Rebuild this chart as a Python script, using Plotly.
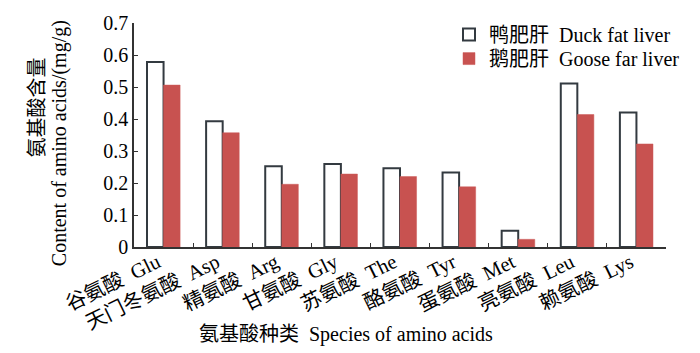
import plotly.graph_objects as go

NB = "\u00a0"
categories = ["谷氨酸" + NB*2 + "Glu", "天门冬氨酸" + NB*2 + "Asp", "精氨酸" + NB*2 + "Arg",
              "甘氨酸" + NB*2 + "Gly", "苏氨酸" + NB*2 + "The", "酪氨酸" + NB*2 + "Tyr",
              "蛋氨酸" + NB*2 + "Met", "亮氨酸" + NB*2 + "Leu", "赖氨酸" + NB*2 + "Lys"]
duck = [0.578, 0.393, 0.252, 0.259, 0.246, 0.233, 0.051, 0.511, 0.420]
goose = [0.506, 0.357, 0.196, 0.228, 0.220, 0.188, 0.024, 0.414, 0.322]
yticks = [0, 0.1, 0.2, 0.3, 0.4, 0.5, 0.6, 0.7]
ytick_text = ["0", "0.1", "0.2", "0.3", "0.4", "0.5", "0.6", "0.7"]

FONT = "Liberation Serif, Times New Roman, Noto Sans CJK SC"
W, H = 700, 353
l, r, t, b = 134, 34, 14, 106
pw, ph = W - l - r, H - t - b


def px2paper(px, py):
    return (px - l) / pw, (H - b - py) / ph


fig = go.Figure()
fig.add_trace(go.Bar(x=categories, y=duck, name="鸭肥肝" + NB*2 + "Duck fat liver",
                     legend="legend",
                     marker=dict(color="white", line=dict(color="#333a40", width=2))))
fig.add_trace(go.Bar(x=categories, y=goose, name="鹅肥肝" + NB*2 + "Goose far liver",
                     legend="legend2",
                     marker=dict(color="#c85250", line=dict(color="#cc5a58", width=0.5))))

l1 = px2paper(449, 26)
l2 = px2paper(449, 51)
ax1 = px2paper(37, 102)
ax2 = px2paper(59, 139)
ax3 = px2paper(346, 338)

legfont = dict(size=20, family=FONT, color="#000000")
fig.update_layout(
    width=W, height=H,
    margin=dict(l=l, r=r, t=t, b=b),
    paper_bgcolor="white", plot_bgcolor="white",
    font=dict(family=FONT, size=20, color="#000000"),
    barmode="group", bargap=0.44, bargroupgap=0,
    showlegend=True,
    legend=dict(x=l1[0], y=l1[1], xanchor="left", yanchor="middle",
                bgcolor="rgba(0,0,0,0)", font=legfont),
    legend2=dict(x=l2[0], y=l2[1], xanchor="left", yanchor="middle",
                 bgcolor="rgba(0,0,0,0)", font=legfont),
    xaxis=dict(showline=True, linecolor="#333333", linewidth=1.5,
               ticks="inside", ticklen=4, tickcolor="#333333", tickson="boundaries",
               tickangle=-26, tickfont=dict(size=20.5, family=FONT, color="#000000"),
               ticklabelshift=-6, ticklabelstandoff=-6,
               showgrid=False, zeroline=False),
    yaxis=dict(range=[0, 0.7], tickvals=yticks, ticktext=ytick_text,
               showline=True, linecolor="#333333", linewidth=1.5,
               ticks="inside", ticklen=4, tickcolor="#333333",
               tickfont=dict(size=20, family=FONT, color="#000000"),
               showgrid=False, zeroline=False),
    annotations=[
        dict(text="氨基酸含量", textangle=-90, x=ax1[0], y=ax1[1],
             xref="paper", yref="paper", showarrow=False, xanchor="center", yanchor="middle",
             font=dict(size=20, family=FONT, color="#000000")),
        dict(text="Content of amino acids/(mg/g)", textangle=-90, x=ax2[0], y=ax2[1],
             xref="paper", yref="paper", showarrow=False, xanchor="center", yanchor="middle",
             font=dict(size=20, family=FONT, color="#000000")),
        dict(text="氨基酸种类" + NB*2 + "Species of amino acids", x=ax3[0], y=ax3[1],
             xref="paper", yref="paper", showarrow=False, xanchor="center", yanchor="middle",
             font=dict(size=20, family=FONT, color="#000000")),
    ],
)
fig.write_html("out.html")
